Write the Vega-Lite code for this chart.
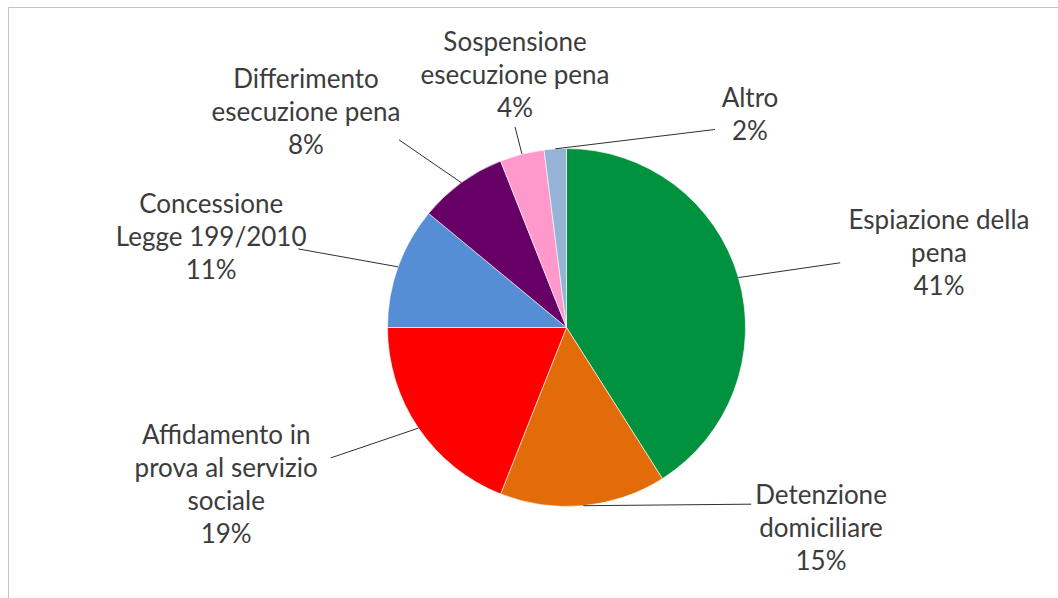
{
  "$schema": "https://vega.github.io/schema/vega-lite/v6.json",
  "width": 1050,
  "height": 591,
  "autosize": {"type": "none"},
  "padding": {"left": 8, "top": 7, "right": 0, "bottom": 0},
  "background": "#ffffff",
  "config": {
    "view": {"stroke": null},
    "font": "Lato",
    "axis": {"domainColor": "#c4c4c4", "domainWidth": 1, "labels": false, "ticks": false, "grid": false}
  },
  "data": {
    "values": [
      {"categoria": "Espiazione della pena", "etichetta": "Espiazione della\npena", "valore": 41},
      {"categoria": "Detenzione domiciliare", "etichetta": "Detenzione\ndomiciliare", "valore": 15},
      {"categoria": "Affidamento in prova al servizio sociale", "etichetta": "Affidamento in\nprova al servizio\nsociale", "valore": 19},
      {"categoria": "Concessione Legge 199/2010", "etichetta": "Concessione\nLegge 199/2010", "valore": 11},
      {"categoria": "Differimento esecuzione pena", "etichetta": "Differimento\nesecuzione pena", "valore": 8},
      {"categoria": "Sospensione esecuzione pena", "etichetta": "Sospensione\nesecuzione pena", "valore": 4},
      {"categoria": "Altro", "etichetta": "Altro", "valore": 2}
    ]
  },
  "transform": [
    {"window": [{"op": "row_number", "as": "ordine"}, {"op": "sum", "field": "valore", "as": "cumulato"}], "frame": [null, 0]},
    {"joinaggregate": [{"op": "sum", "field": "valore", "as": "totale"}]},
    {"calculate": "(datum.cumulato - datum.valore / 2) / datum.totale * 2 * PI", "as": "theta"},
    {"calculate": "abs(sin(datum.theta)) < 0.15 ? datum.theta + (cos(datum.theta) > 0 ? 1 : -1) * 35 * PI / 180 : datum.theta", "as": "phi"},
    {"calculate": "split(datum.etichetta + '\\n' + datum.valore + '%', '\\n')", "as": "righe"},
    {"calculate": "length(datum.righe)", "as": "nRighe"},
    {"calculate": "max(length(datum.righe[0]), length(datum.righe[1] || ''), length(datum.righe[2] || ''), length(datum.righe[3] || ''))", "as": "maxLen"},
    {"calculate": "abs(sin(datum.phi)) > 0.3 ? (sin(datum.phi) > 0 ? 1 : -1) : 0", "as": "lato"},
    {"calculate": "(datum.lato != 0 ? 285 : 207) * sin(datum.phi)", "as": "px"},
    {"calculate": "(datum.lato != 0 ? 232 : 207) * cos(datum.phi)", "as": "py"},
    {"calculate": "datum.px + datum.lato * (datum.maxLen * 5.8 + 6)", "as": "tx"},
    {"calculate": "(datum.lato != 0 ? datum.py + cos(datum.phi) * (datum.nRighe * 33 / 2 - 16.5) : datum.py + (cos(datum.phi) >= 0 ? 1 : -1) * (datum.nRighe * 33 / 2 + 2)) + (datum.nRighe - 1) * 16.5", "as": "ty"},
    {"calculate": "179 * sin(datum.theta)", "as": "x0"},
    {"calculate": "179 * cos(datum.theta)", "as": "y0"}
  ],
  "layer": [
    {
      "mark": {"type": "arc", "radius": 179, "stroke": "#ffffff", "strokeWidth": 0.6},
      "encoding": {
        "x": {"datum": 0, "type": "quantitative", "title": null, "scale": {"domain": [-558.5, 491.5], "zero": false, "nice": false}, "axis": {"orient": "top"}},
        "y": {"datum": 0, "type": "quantitative", "title": null, "scale": {"domain": [-270.5, 320.5], "zero": false, "nice": false}, "axis": {"orient": "left"}},
        "theta": {"field": "valore", "type": "quantitative", "stack": true},
        "order": {"field": "ordine", "type": "quantitative"},
        "color": {
          "field": "categoria",
          "type": "nominal",
          "legend": null,
          "scale": {
            "domain": ["Espiazione della pena", "Detenzione domiciliare", "Affidamento in prova al servizio sociale", "Concessione Legge 199/2010", "Differimento esecuzione pena", "Sospensione esecuzione pena", "Altro"],
            "range": ["#00923f", "#e36c0a", "#ff0000", "#558ed5", "#660066", "#ff99cc", "#95b3d7"]
          }
        }
      }
    },
    {
      "mark": {"type": "rule", "color": "#303030", "strokeWidth": 1},
      "encoding": {
        "x": {"field": "x0", "type": "quantitative", "title": null, "axis": {"orient": "top"}},
        "y": {"field": "y0", "type": "quantitative", "title": null, "axis": {"orient": "left"}},
        "x2": {"field": "px"},
        "y2": {"field": "py"}
      }
    },
    {
      "mark": {"type": "text", "font": "Lato", "fontSize": 26, "lineHeight": 33, "align": "center", "baseline": "middle", "color": "#3c3c3c"},
      "encoding": {
        "x": {"field": "tx", "type": "quantitative", "title": null, "axis": {"orient": "top"}},
        "y": {"field": "ty", "type": "quantitative", "title": null, "axis": {"orient": "left"}},
        "text": {"field": "righe", "type": "nominal"}
      }
    }
  ]
}
